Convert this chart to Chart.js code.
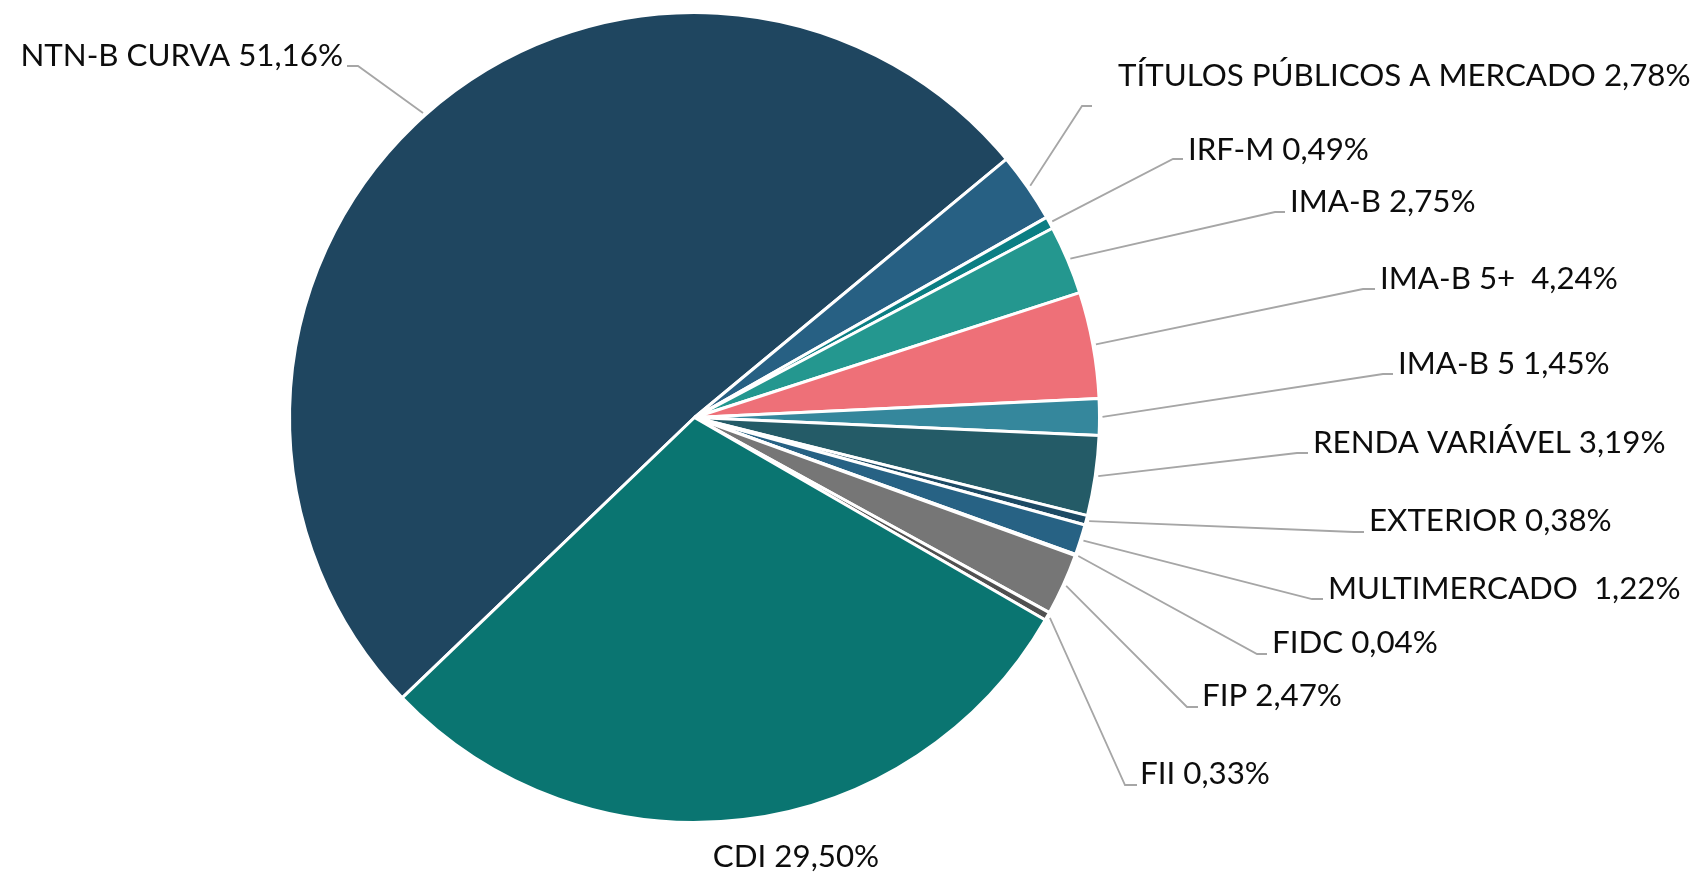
<!DOCTYPE html>
<html>
<head>
<meta charset="utf-8">
<script src="https://cdn.jsdelivr.net/npm/chart.js@4.4.1/dist/chart.umd.min.js"></script>
<style>
  html, body { margin: 0; padding: 0; background: #fff; }
  #wrap { width: 1693px; height: 874px; position: relative; }
</style>
</head>
<body>
<div id="wrap"><canvas id="myChart" width="1693" height="874"></canvas></div>
<script>
// categorias (ordem horaria, a partir de NTN-B)
var labels = [
    'NTN-B CURVA', 'TÍTULOS PÚBLICOS A MERCADO', 'IRF-M', 'IMA-B', 'IMA-B 5+ ',
    'IMA-B 5', 'RENDA VARIÁVEL', 'EXTERIOR', 'MULTIMERCADO ', 'FIDC', 'FIP', 'FII', 'CDI'
];
// % da carteira
var values = [51.16, 2.78, 0.49, 2.75, 4.24, 1.45, 3.19, 0.38, 1.22, 0.04, 2.47, 0.33, 29.50];

var colors = [
    '#1f4660', '#276083', '#0b7e83', '#24978f', '#ee7078', '#35879c', '#245b67',
    '#1d4a64', '#276284', '#0b7e83', '#767676', '#505050', '#0a7571'
];

// posicao dos rotulos (texto: x, y do meio; alinhamento) e fim da linha guia
// relativo a tela 1693x874
var labelPos = [
    [343, 56, 'right'], [1118, 76, 'left'], [1188, 150, 'left'], [1290, 202, 'left'],
    [1380, 279, 'left'], [1398, 364, 'left'], [1313, 443, 'left'], [1369, 521, 'left'],
    [1328, 589, 'left'], [1272, 643, 'left'], [1202, 696, 'left'], [1140, 774, 'left'],
    [796, 857, 'center']
];
var lineEnd = [
    [347, 66, 358], [1092, 106, 1082], [1183, 159, 1173], [1285, 212, 1275],
    [1375, 289, 1363], [1393, 374, 1383], [1308, 453, 1297], [1364, 532, 1354],
    [1323, 599, 1312], [1267, 654, 1257], [1198, 707, 1187], [1137, 785, 1125],
    null
];

function fmt(v) {
    return v.toFixed(2).replace('.', ',') + '%';
}

var labelPlugin = {
    id: 'pieLabels',
    afterDatasetsDraw: function(chart) {
        var ctx = chart.ctx;
        var meta = chart.getDatasetMeta(0);
        ctx.save();
        meta.data.forEach(function(arc, i) {
            var p = arc.getProps(['x', 'y', 'startAngle', 'endAngle', 'outerRadius'], true);
            var mid = (p.startAngle + p.endAngle) / 2;
            var r = p.outerRadius + 3;
            var ax = p.x + Math.cos(mid) * r;
            var ay = p.y + Math.sin(mid) * r;

            // linha guia
            var le = lineEnd[i];
            if (le) {
                ctx.strokeStyle = '#a6a6a6';
                ctx.lineWidth = 1.8;
                ctx.beginPath();
                ctx.moveTo(ax, ay);
                ctx.lineTo(le[2], le[1]);
                ctx.lineTo(le[0], le[1]);
                ctx.stroke();
            }

            // texto
            var lp = labelPos[i];
            ctx.fillStyle = '#0d0d0d';
            ctx.font = '31.3px Lato';
            ctx.textAlign = lp[2];
            ctx.textBaseline = 'middle';
            ctx.fillText(labels[i] + ' ' + fmt(values[i]), lp[0], lp[1]);
        });
        ctx.restore();
    }
};

var myChart;

function drawChart() {
    var ctx = document.getElementById('myChart').getContext('2d');
    myChart = new Chart(ctx, {
        type: 'pie',
        data: {
            labels: labels,
            datasets: [{
                data: values,
                backgroundColor: colors,
                borderColor: '#ffffff',
                borderWidth: 3
            }]
        },
        options: {
            responsive: false,
            animation: false,
            rotation: 226.2,
            layout: { padding: { left: 288, right: 592, top: 11, bottom: 50 } },
            plugins: {
                legend: { display: false },
                tooltip: { enabled: false }
            }
        },
        plugins: [labelPlugin]
    });
}

drawChart();
</script>
</body>
</html>
